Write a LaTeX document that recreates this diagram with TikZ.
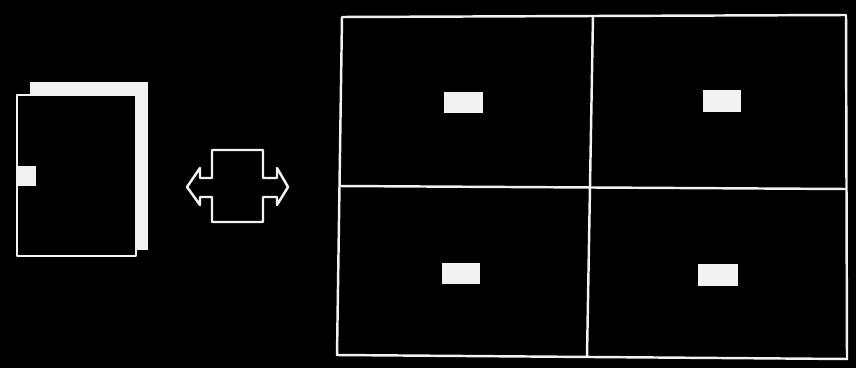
\documentclass[tikz,border=0pt]{standalone}
\usepackage{xcolor}
\usepackage{tikz}
\usetikzlibrary{backgrounds}
\definecolor{ink}{HTML}{F2F2F2}

\begin{document}
\begin{tikzpicture}[
 x=0.02cm, y=-0.02cm,
 outline/.style={draw=ink,line width=1.4pt,line join=round},
 sheet/.style={fill=ink},
 tag/.style={fill=ink}
]
\fill[black] (0,0) rectangle (856,368);
\useasboundingbox (0,0) rectangle (856,368);
% document
\fill[sheet] (30,82) rectangle (148,250);
\draw[outline,fill=black] (17,95) rectangle (136,256);
\fill[tag] (17,166) rectangle (36,186);
% two way arrow
\draw[outline] (212,150) -- (263,150) -- (263,178) -- (277,178) -- (277,168) -- (288,187)
 -- (277,205) -- (277,197) -- (263,197) -- (263,222) -- (212,222) -- (212,197)
 -- (200,197) -- (200,205) -- (187,187) -- (200,168) -- (200,178) -- (212,178) -- cycle;
% grid of four
\coordinate (tl) at (342,17);
\coordinate (tr) at (846,15);
\coordinate (br) at (847,359);
\coordinate (bl) at (337,355);
\draw[outline] (tl) -- (tr) -- (br) -- (bl) -- cycle;
\draw[outline] (593,16) -- (587,357);
\draw[outline] (339,186) -- (846,189);
\fill[tag] (444,92) rectangle (483,113);
\fill[tag] (703,90) rectangle (741,112);
\fill[tag] (442,263) rectangle (480,284);
\fill[tag] (698,264) rectangle (738,286);
\end{tikzpicture}
\end{document}
